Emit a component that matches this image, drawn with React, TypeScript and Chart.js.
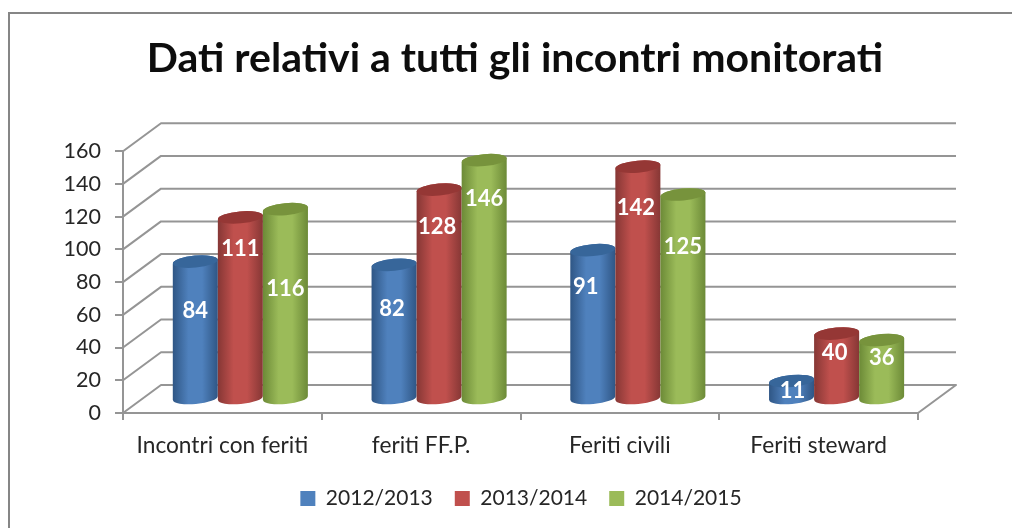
import React, { useEffect, useRef } from "react";
import { Chart, registerables } from "chart.js";

Chart.register(...registerables);

const titleText = "Dati relativi a tutti gli incontri monitorati";
const categories = ["Incontri con feriti", "feriti FF.P.", "Feriti civili", "Feriti steward"];
const seasons = ["2012/2013", "2013/2014", "2014/2015"];
const values2012 = [84, 82, 91, 11];
const values2013 = [111, 128, 142, 40];
const values2014 = [116, 146, 125, 36];
const yTicks = [0, 20, 40, 60, 80, 100, 120, 140, 160];

const baseColors = ["#4f81bd", "#c0504d", "#9bbb59"];
const edgeColors = ["#2f5685", "#863735", "#6c8a37"];
const topColors = ["#37669a", "#953735", "#77933c"];

// manual label placement seen in the picture (pixels from the top of each cylinder)
const labelDy = [
  [49, 32, 80],
  [44, 37, 39],
  [37, 41, 52],
  [10, 19, 18],
];
const labelDx = [
  [0, 0, 0],
  [-2, -2, 0],
  [-7, -2, 0],
  [1, -2, 0],
];

const DEPTH_X = 38;
const DEPTH_Y = -28;
const FONT = "Lato, Carlito, 'Open Sans', sans-serif";
const GRID = "#959595";

const scene = {
  id: "scene",
  afterLayout(chart: any) {
    chart.legend.left += 34;
    chart.legend.right += 34;
    chart.titleBlock.left += 28;
    chart.titleBlock.right += 28;
  },
  beforeDraw(chart: any) {
    const { ctx, width, height } = chart;
    ctx.save();
    ctx.fillStyle = "#ffffff";
    ctx.fillRect(0, 0, width, height);
    ctx.strokeStyle = "#868686";
    ctx.lineWidth = 2;
    ctx.beginPath();
    ctx.moveTo(9, height);
    ctx.lineTo(9, 13);
    ctx.lineTo(width, 13);
    ctx.stroke();
    ctx.restore();
  },
  beforeDatasetsDraw(chart: any) {
    const { ctx, scales, chartArea } = chart;
    const x0 = chartArea.left;
    const x1 = chartArea.right;
    ctx.save();
    ctx.strokeStyle = GRID;
    ctx.lineWidth = 2;
    ctx.lineJoin = "round";
    for (const t of yTicks) {
      const y = scales.y.getPixelForValue(t);
      ctx.beginPath();
      ctx.moveTo(x0, y);
      ctx.lineTo(x0 + DEPTH_X, y + DEPTH_Y);
      ctx.lineTo(x1 + DEPTH_X, y + DEPTH_Y);
      if (t === 0) ctx.lineTo(x1, y);
      ctx.stroke();
    }
    ctx.restore();

    chart.data.datasets.forEach((_: any, d: number) => {
      const meta = chart.getDatasetMeta(d);
      meta.data.forEach((bar: any) => {
        const rx = bar.width / 2;
        const ry = 6;
        const tilt = -0.09;
        const cx = bar.x + DEPTH_X / 2 - 1;
        const top = bar.y + DEPTH_Y / 2;
        const bottom = bar.base + DEPTH_Y / 2;
        const g = ctx.createLinearGradient(cx - rx, 0, cx + rx, 0);
        g.addColorStop(0, edgeColors[d]);
        g.addColorStop(0.35, baseColors[d]);
        g.addColorStop(0.65, baseColors[d]);
        g.addColorStop(1, edgeColors[d]);
        const dy = rx * Math.sin(tilt);
        ctx.save();
        ctx.fillStyle = g;
        ctx.beginPath();
        ctx.moveTo(cx - rx, top - dy);
        ctx.lineTo(cx - rx, bottom - dy);
        ctx.ellipse(cx, bottom, rx, ry, tilt, Math.PI, 0, true);
        ctx.lineTo(cx + rx, top + dy);
        ctx.ellipse(cx, top, rx, ry, tilt, 0, Math.PI, true);
        ctx.closePath();
        ctx.fill();
        ctx.fillStyle = topColors[d];
        ctx.beginPath();
        ctx.ellipse(cx, top, rx, ry, tilt, 0, Math.PI * 2);
        ctx.fill();
        ctx.restore();
      });
    });

    chart.data.datasets.forEach((ds: any, d: number) => {
      const meta = chart.getDatasetMeta(d);
      meta.data.forEach((bar: any, i: number) => {
        ctx.save();
        ctx.fillStyle = "#ffffff";
        ctx.font = `bold 22px ${FONT}`;
        ctx.textAlign = "center";
        ctx.textBaseline = "middle";
        ctx.fillText(
          String(ds.data[i]),
          bar.x + DEPTH_X / 2 - 1 + labelDx[i][d],
          bar.y + DEPTH_Y / 2 + labelDy[i][d]
        );
        ctx.restore();
      });
    });
    return false;
  },
};

export default function App() {
  const ref = useRef<HTMLCanvasElement | null>(null);
  useEffect(() => {
    document.body.style.margin = "0";
    const chart = new Chart(ref.current as HTMLCanvasElement, {
      type: "bar",
      data: {
        labels: categories,
        datasets: [
          { label: seasons[0], data: values2012, backgroundColor: baseColors[0] },
          { label: seasons[1], data: values2013, backgroundColor: baseColors[1] },
          { label: seasons[2], data: values2014, backgroundColor: baseColors[2] },
        ],
      },
      options: {
        responsive: false,
        animation: false,
        layout: { padding: { left: 56, right: 94, top: 0, bottom: 9 } },
        datasets: { bar: { categoryPercentage: 0.68, barPercentage: 1 } },
        scales: {
          x: {
            grid: { drawOnChartArea: false, color: GRID, lineWidth: 2, tickLength: 7, offset: true },
            border: { color: GRID, width: 2 },
            ticks: { color: "#262626", font: { family: FONT, size: 22.7 }, padding: 12, maxRotation: 0 },
            afterFit(s: any) {
              s.height = 53;
            },
          },
          y: {
            min: 0,
            max: 160,
            grid: { drawOnChartArea: false, color: GRID, lineWidth: 2, tickLength: 8 },
            border: { color: GRID, width: 2 },
            ticks: {
              stepSize: 20,
              color: "#262626",
              font: { family: FONT, size: 21.5 },
              padding: 14,
            },
            afterFit(s: any) {
              s.width = 67;
            },
          },
        },
        plugins: {
          title: {
            display: true,
            text: titleText,
            color: "#0d0d0d",
            font: { family: FONT, size: 41, weight: "bold" },
            padding: { top: 34, bottom: 68 },
          },
          legend: {
            position: "bottom",
            labels: {
              boxWidth: 15,
              boxHeight: 15,
              color: "#262626",
              font: { family: FONT, size: 21 },
              padding: 22,
            },
          },
          tooltip: { enabled: false },
        },
      },
      plugins: [scene],
    } as any);
    return () => chart.destroy();
  }, []);
  return <canvas ref={ref} width={1012} height={528} style={{ display: "block", filter: "blur(0.5px)" }} />;
}
